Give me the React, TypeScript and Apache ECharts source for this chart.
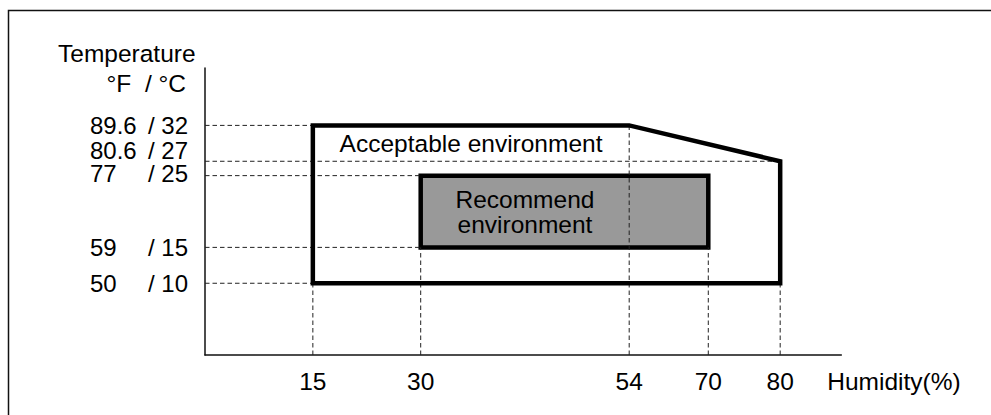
import React, { useEffect, useRef } from "react";
import * as echarts from "echarts";

// Humidity axis (drawn linearly in the reference). The "54" mark sits at ~59 on that linear scale in the picture.
const humidityTickValues = [15, 30, 59, 70, 80];
const humidityTickLabels = ["15", "30", "54", "70", "80"];

// Temperature axis ticks
const celsiusTicks = [10, 15, 25, 27, 32];
const fahrenheitTicks = ["50", "59", "77", "80.6", "89.6"];

// Acceptable environment outline (humidity %, temperature °C)
const acceptableHumidity = [15, 15, 59, 80, 80];
const acceptableTemp = [10, 32, 32, 27, 10];

// Recommended environment rectangle
const recommendHumidity = [30, 30, 70, 70];
const recommendTemp = [15, 25, 25, 15];

const FONT = '"Liberation Sans", Arial, Helvetica, sans-serif';
const FS = 24.5;
const YFS = 24;
const INK = "#000";
// vertical nudges (px) for crowded temperature labels (as stacked in the reference)
const LABEL_NUDGE: Record<number, number> = { 27: -11, 25: -2 };

function buildGuides(): number[][] {
  const pts: number[][] = [];
  acceptableHumidity.forEach((h, i) => pts.push([h, acceptableTemp[i]]));
  recommendHumidity.forEach((h, i) => pts.push([h, recommendTemp[i]]));
  const guides: number[][] = [];
  const ys = Array.from(new Set(pts.map((p) => p[1])));
  ys.forEach((y) => {
    const minX = Math.min(...pts.filter((p) => p[1] === y).map((p) => p[0]));
    guides.push([0, y, minX, y]);
  });
  const xs = Array.from(new Set(pts.map((p) => p[0])));
  xs.forEach((x) => {
    const minY = Math.min(...pts.filter((p) => p[0] === x).map((p) => p[1]));
    guides.push([x, 0, x, minY]);
  });
  return guides;
}

export default function App() {
  const ref = useRef<HTMLDivElement>(null);

  useEffect(() => {
    document.body.style.margin = "0";
    if (!ref.current) return;
    const chart = echarts.init(ref.current, undefined, { renderer: "svg" });

    const accData = acceptableHumidity.map((h, i) => [h, acceptableTemp[i]]);
    const recData = recommendHumidity.map((h, i) => [h, recommendTemp[i]]);
    const guides = buildGuides();
    const yLabelData = celsiusTicks.map((c) => [0, c]);

    const labelPoints = [
      [
        (acceptableHumidity[1] + acceptableHumidity[2]) / 2,
        (acceptableTemp[2] + acceptableTemp[3]) / 2,
      ],
      [(recommendHumidity[0] + acceptableHumidity[2]) / 2, (recommendTemp[0] + recommendTemp[1]) / 2],
    ];
    const labelTexts = ["Acceptable environment", "Recommend\nenvironment"];

    const polygonRender = (data: number[][], fill: string) => (params: any, api: any) => {
      if (params.dataIndex !== 0) return null;
      const points = data.map((d) => api.coord(d));
      return {
        type: "polygon",
        shape: { points },
        style: { fill, stroke: "#000", lineWidth: 4.5, lineJoin: "miter" },
      };
    };

    const option: any = {
      animation: false,
      grid: { left: 205, right: 149.7, top: 68, bottom: 60, containLabel: false },
      xAxis: {
        type: "value",
        min: 0,
        max: 88.5,
        axisLine: { show: true, onZero: false, lineStyle: { color: "#111", width: 1.5 } },
        axisTick: { show: false },
        splitLine: { show: false },
        axisLabel: {
          customValues: humidityTickValues,
          showMinLabel: true,
          showMaxLabel: true,
          formatter: (v: number) => {
            const i = humidityTickValues.indexOf(v);
            return i >= 0 ? humidityTickLabels[i] : "";
          },
          margin: 14,
          color: INK,
          fontFamily: FONT,
          fontSize: FS,
          lineHeight: 24,
        },
        name: "Humidity(%)",
        nameLocation: "end",
        nameGap: -14,
        nameTextStyle: {
          color: INK,
          fontFamily: FONT,
          fontSize: FS,
          align: "left",
          verticalAlign: "top",
          lineHeight: 24,
          padding: [14, 0, 0, 0],
        },
      },
      yAxis: {
        type: "value",
        min: 0,
        max: 40,
        axisLine: { show: true, onZero: false, lineStyle: { color: "#111", width: 1.5 } },
        axisTick: { show: false },
        splitLine: { show: false },
        axisLabel: { show: false },
      },
      graphic: [
        {
          type: "rect",
          z: -10,
          silent: true,
          shape: { x: 8.5, y: 10.5, width: 1200, height: 800 },
          style: { fill: "none", stroke: "#111", lineWidth: 1.5 },
        },
        {
          type: "text",
          x: 58,
          y: 53,
          style: {
            text: "Temperature",
            fontFamily: FONT,
            fontSize: FS,
            fill: INK,
            align: "left",
            verticalAlign: "middle",
          },
        },
        {
          type: "text",
          x: 186,
          y: 83,
          style: {
            text: "°F  / °C",
            fontFamily: FONT,
            fontSize: FS,
            fill: INK,
            align: "right",
            verticalAlign: "middle",
          },
        },
      ],
      series: [
        {
          type: "custom",
          name: "Recommend environment",
          z: 2,
          clip: false,
          data: recData,
          renderItem: polygonRender(recData, "#999999"),
        },
        {
          type: "custom",
          name: "guides",
          z: 3,
          clip: false,
          data: guides,
          encode: { x: [0, 2], y: [1, 3] },
          renderItem: (params: any, api: any) => {
            const p1 = api.coord([api.value(0), api.value(1)]);
            const p2 = api.coord([api.value(2), api.value(3)]);
            return {
              type: "line",
              shape: { x1: p1[0], y1: p1[1], x2: p2[0], y2: p2[1] },
              style: { stroke: "#222", lineWidth: 1, lineDash: [4.5, 3] },
            };
          },
        },
        {
          type: "custom",
          name: "Acceptable environment",
          z: 4,
          clip: false,
          data: accData,
          renderItem: polygonRender(accData, "none"),
        },
        {
          type: "custom",
          name: "labels",
          z: 5,
          clip: false,
          data: labelPoints,
          renderItem: (params: any, api: any) => {
            const p = api.coord([api.value(0), api.value(1)]);
            return {
              type: "text",
              x: p[0],
              y: p[1],
              style: {
                text: labelTexts[params.dataIndex],
                fontFamily: FONT,
                fontSize: FS,
                fill: INK,
                align: "center",
                verticalAlign: "middle",
                lineHeight: 25,
              },
            };
          },
        },
        {
          type: "custom",
          name: "temperature labels",
          z: 5,
          clip: false,
          data: yLabelData,
          renderItem: (params: any, api: any) => {
            const c = api.value(1);
            const i = celsiusTicks.indexOf(c);
            const p = api.coord([0, c]);
            const nudge = LABEL_NUDGE[c] || 0;
            return {
              type: "text",
              x: p[0] - 17,
              y: p[1] + nudge,
              style: {
                text: `{f|${fahrenheitTicks[i]}}{c|/ ${c}}`,
                align: "right",
                verticalAlign: "middle",
                fontFamily: FONT,
                fontSize: YFS,
                lineHeight: 20,
                fill: INK,
                rich: {
                  f: { width: 57, align: "left", fontFamily: FONT, fontSize: YFS, lineHeight: 20, fill: INK },
                  c: { width: 41, align: "right", fontFamily: FONT, fontSize: YFS, lineHeight: 20, fill: INK },
                },
              },
            };
          },
        },
      ],
    };

    chart.setOption(option);
    return () => {
      chart.dispose();
    };
  }, []);

  return <div ref={ref} style={{ width: 991, height: 415 }} />;
}
